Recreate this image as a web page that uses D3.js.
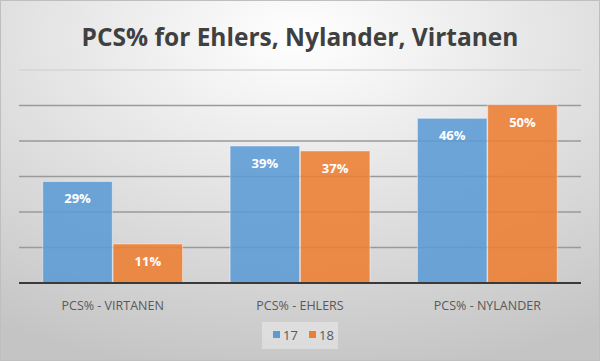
<!DOCTYPE html>
<html><head><meta charset="utf-8">
<script src="https://cdn.jsdelivr.net/npm/d3@7"></script>
<style>html,body{margin:0;padding:0;background:#fff;}svg{display:block;}</style>
</head><body>
<script>
const categories = ["PCS% - VIRTANEN", "PCS% - EHLERS", "PCS% - NYLANDER"];
const seriesNames = ["17", "18"];
const values17 = [0.286, 0.386, 0.464];
const values18 = [0.11, 0.372, 0.502];
const yTicks = [0, 0.1, 0.2, 0.3, 0.4, 0.5, 0.6];
const title = "PCS% for Ehlers, Nylander, Virtanen";
const colors = ["#5B9BD5", "#ED7D31"];

const W = 600, H = 361;
const svg = d3.select("body").append("svg").attr("width", W).attr("height", H);
const defs = svg.append("defs");
const rg = defs.append("radialGradient").attr("id", "bg")
  .attr("cx", "50%").attr("cy", "10%").attr("r", "95%").attr("fx","50%").attr("fy","10%");
rg.append("stop").attr("offset", "0%").attr("stop-color", "#ffffff");
rg.append("stop").attr("offset", "100%").attr("stop-color", "#c4c4c4");
svg.append("rect").attr("x", 0.5).attr("y", 0.5).attr("width", W - 1).attr("height", H - 1)
  .attr("fill", "url(#bg)").attr("stroke", "#bfbfbf").attr("stroke-width", 1);

const m = {left: 19, right: 19, top: 70, bottom: 78};
const x0 = d3.scaleBand().domain(categories).range([m.left, W - m.right]).paddingInner(0.246).paddingOuter(0.123);
const x1 = d3.scaleBand().domain(seriesNames).range([0, x0.bandwidth()]).padding(0.01);
const y = d3.scaleLinear().domain([0, 0.6]).range([283, 70]);

// gridlines
svg.append("g").selectAll("line").data(yTicks.slice(1)).join("line")
  .attr("x1", m.left).attr("x2", W - m.right)
  .attr("y1", d => y(d)).attr("y2", d => y(d))
  .attr("stroke", (d,i) => i === yTicks.length - 2 ? "#d4d4d4" : "#9a9a9a")
  .attr("stroke-width", 1.3);

const data = categories.map((c, i) => ({cat: c, vals: [values17[i], values18[i]]}));
const groups = svg.append("g").selectAll("g").data(data).join("g")
  .attr("transform", d => `translate(${x0(d.cat)},0)`);
groups.selectAll("rect").data(d => d.vals.map((v, j) => ({s: seriesNames[j], v, j}))).join("rect")
  .attr("x", d => x1(d.s)).attr("width", x1.bandwidth())
  .attr("y", d => y(d.v)).attr("height", d => y(0) - y(d.v))
  .attr("fill", d => colors[d.j]).attr("fill-opacity", 0.88)
  .attr("stroke", "#ffffff").attr("stroke-opacity", 0.45).attr("stroke-width", 1);
groups.selectAll("text").data(d => d.vals.map((v, j) => ({s: seriesNames[j], v, j}))).join("text")
  .attr("x", d => x1(d.s) + x1.bandwidth() / 2)
  .attr("y", d => y(d.v) + 22)
  .attr("text-anchor", "middle")
  .attr("font-family", "Open Sans, sans-serif").attr("font-weight", "bold").attr("font-size", 13)
  .attr("fill", "#ffffff")
  .text(d => d3.format(".0%")(d.v));

// baseline
svg.append("line").attr("x1", m.left).attr("x2", W - m.right).attr("y1", y(0)).attr("y2", y(0))
  .attr("stroke", "#3a3a3a").attr("stroke-width", 2);

// x axis labels
const xAxis = d3.axisBottom(x0).tickSize(0).tickPadding(0);
const xg = svg.append("g").attr("transform", `translate(0,${y(0)})`).call(xAxis);
xg.select(".domain").remove();
xg.selectAll("text").attr("dy", null).attr("y", 27)
  .attr("font-family", "Open Sans, sans-serif").attr("font-size", 12.5).attr("fill", "#595959");

// title
svg.append("text").attr("x", W / 2).attr("y", 46).attr("text-anchor", "middle")
  .attr("font-family", "Open Sans, sans-serif").attr("font-weight", "bold").attr("font-size", 24.5)
  .attr("fill", "#404040").text(title);

// legend
const lg = svg.append("g");
lg.append("rect").attr("x", 262).attr("y", 322).attr("width", 76).attr("height", 27)
  .attr("fill", "#ffffff").attr("fill-opacity", 0.35);
const lx = [273, 309];
seriesNames.forEach((s, i) => {
  lg.append("rect").attr("x", lx[i]).attr("y", 331).attr("width", 7).attr("height", 7).attr("fill", colors[i]);
  lg.append("text").attr("x", lx[i] + 10).attr("y", 340).attr("font-family", "Open Sans, sans-serif")
    .attr("font-size", 13).attr("fill", "#595959").text(s);
});
</script>
</body></html>
